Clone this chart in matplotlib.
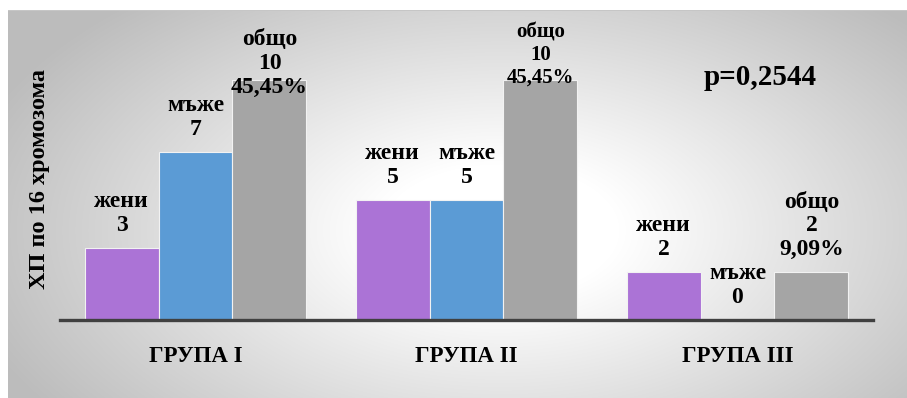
import numpy as np
import matplotlib
matplotlib.use("Agg")
import matplotlib.pyplot as plt

plt.rcParams["font.family"] = ["Liberation Serif", "DejaVu Serif"]
plt.rcParams["font.weight"] = "bold"

groups = ["ГРУПА I", "ГРУПА II", "ГРУПА III"]
series = ["жени", "мъже", "общо"]
women = [3, 5, 2]
men = [7, 5, 0]
total = [10, 10, 2]
total_pct = ["45,45%", "45,45%", "9,09%"]
y_label = "ХП по 16 хромозома"
p_text = "p=0,2544"

colors = ["#AB73D6", "#5B9BD5", "#A5A5A5"]

W, H = 907, 398
fig = plt.figure(figsize=(W / 100, H / 100), dpi=100)

# radial grey backdrop behind the chart area
bg = fig.add_axes([0, 0, 1, 1], zorder=-5)
yy, xx = np.mgrid[0:H, 0:W]
cx, cy, rx, ry = 500, 230, 540, 300
d = np.sqrt(((xx - cx) / rx) ** 2 + ((yy - cy) / ry) ** 2)
shade = 1.0 - 0.26 * np.clip((d - 0.22) / 0.8, 0, 1)
img = np.dstack([shade] * 3)
img[:10, :, :] = 1.0
img[:, :8, :] = 1.0
img[10, 8:, :] = 0.78
bg.imshow(img, extent=[0, W, H, 0], aspect="auto", interpolation="bilinear")
bg.set_xlim(0, W)
bg.set_ylim(H, 0)
bg.axis("off")

ax = fig.add_axes([60 / W, 1 - 320 / H, 813 / W, 288 / H])
ax.set_facecolor("none")

x = np.arange(len(groups))
bw = 0.273
values = [women, men, total]
for i, (vals, c) in enumerate(zip(values, colors)):
    ax.bar(x + (i - 1) * bw, vals, width=bw, color=c, edgecolor="#f2f2f2",
           linewidth=0.8, zorder=2)

ax.set_xlim(-0.5, 2.5)
ax.set_ylim(0, 12)

# value labels above each bar
lab_fs = 17
gap = 12
ls = 1.18
for g in range(len(groups)):
    ax.annotate(f"{series[0]}\n{women[g]}", (x[g] - bw, women[g]),
                xytext=(0, gap), textcoords="offset points", ha="center",
                va="baseline", fontsize=lab_fs, fontweight="bold",
                linespacing=ls, zorder=3)
    ax.annotate(f"{series[1]}\n{men[g]}", (x[g], men[g]),
                xytext=(0, gap), textcoords="offset points", ha="center",
                va="baseline", fontsize=lab_fs, fontweight="bold",
                linespacing=ls, zorder=3)

tot_offsets = [-9, -2, gap]
tot_sizes = [lab_fs, 15, lab_fs]
for g in range(len(groups)):
    ax.annotate(f"{series[2]}\n{total[g]}\n{total_pct[g]}", (x[g] + bw, total[g]),
                xytext=(0, tot_offsets[g]), textcoords="offset points",
                ha="center", va="baseline", fontsize=tot_sizes[g],
                fontweight="bold", linespacing=ls, zorder=3)

ax.set_xticks(x)
ax.set_xticklabels(groups, fontsize=16.5, fontweight="bold")
ax.tick_params(axis="x", length=0, pad=19)
ax.set_yticks([])
for s in ["top", "right", "left"]:
    ax.spines[s].set_visible(False)
ax.spines["bottom"].set_color("#404040")
ax.spines["bottom"].set_linewidth(2.4)
ax.spines["bottom"].set_zorder(4)

fig.text(40 / W, 1 - 179 / H, y_label, rotation=90, ha="center", va="center",
         fontsize=17.5, fontweight="bold")
fig.text(760 / W, 1 - 85 / H, p_text, ha="center", va="baseline",
         fontsize=21, fontweight="bold")

fig.savefig("out.png", dpi=100)
